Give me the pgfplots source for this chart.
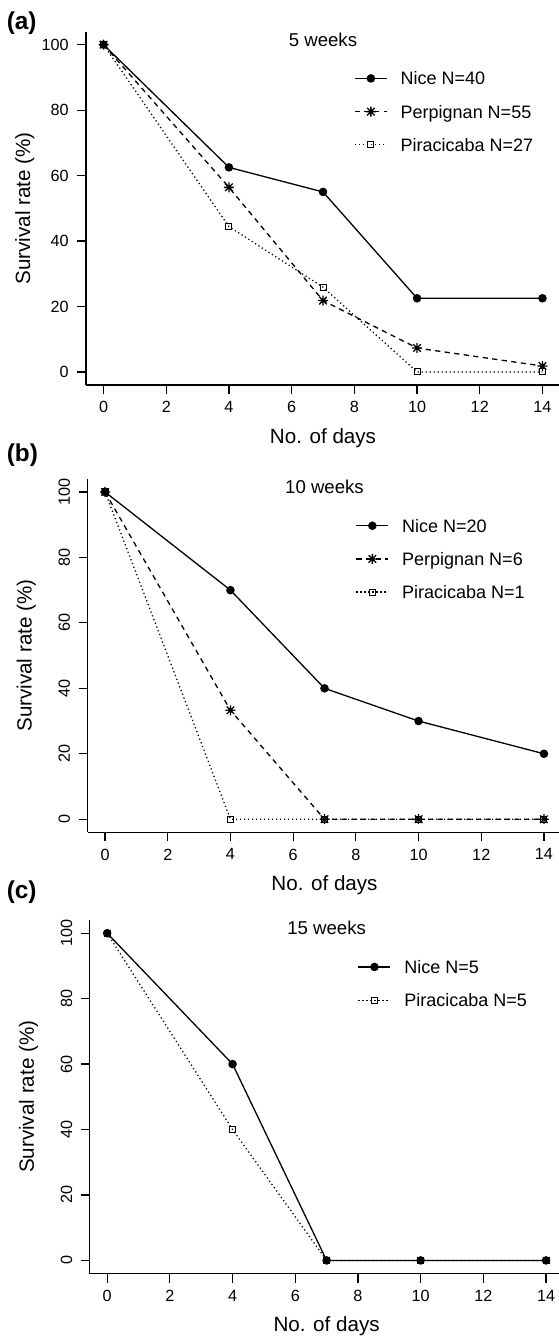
\documentclass[border=0pt]{standalone}
\usepackage{fontspec}
\setmainfont{Liberation Sans}
\usepackage{pgfplots}
\pgfplotsset{compat=1.18}

% R pch=8: a + and an x on top of each other
\pgfdeclareplotmark{rstar}{%
  \pgfpathmoveto{\pgfqpoint{-\pgfplotmarksize}{0pt}}\pgfpathlineto{\pgfqpoint{\pgfplotmarksize}{0pt}}%
  \pgfpathmoveto{\pgfqpoint{0pt}{-\pgfplotmarksize}}\pgfpathlineto{\pgfqpoint{0pt}{\pgfplotmarksize}}%
  \pgfpathmoveto{\pgfqpoint{-.75\pgfplotmarksize}{-.75\pgfplotmarksize}}\pgfpathlineto{\pgfqpoint{.75\pgfplotmarksize}{.75\pgfplotmarksize}}%
  \pgfpathmoveto{\pgfqpoint{-.75\pgfplotmarksize}{.75\pgfplotmarksize}}\pgfpathlineto{\pgfqpoint{.75\pgfplotmarksize}{-.75\pgfplotmarksize}}%
  \pgfusepathqstroke}

\tikzset{panel/.style={anchor=west, inner sep=0pt, font=\fontsize{12.2}{14}\selectfont\bfseries}}

\pgfplotsset{
  surv/.style={
    scale only axis, width=237pt, height=176.7pt,
    xmin=-0.56, xmax=14.56, ymin=-4, ymax=104,
    axis x line=bottom, axis y line=left,
    axis line style={-, line width=0.6pt},
    tick align=outside, major tick length=4.5pt,
    tick style={black, line width=0.6pt},
    xtick={0,2,...,14}, ytick={0,20,...,100},
    ticklabel style={font=\fontsize{8.1}{9.6}\selectfont, inner sep=0pt},
    xticklabel shift=3.5pt, yticklabel shift=4pt,
    /pgf/number format/assume math mode=true,
    xlabel={No. of days}, ylabel={Survival rate (\%)},
    label style={font=\fontsize{10.3}{12}\selectfont},
    xlabel style={at={(axis description cs:0.5,-0.165)}, anchor=base},
    ylabel style={at={(axis description cs:-0.129,0.5)}, anchor=center},
    every axis title shift=0pt,
    title style={at={(rel axis cs:0.5,0.958)}, anchor=base, font=\fontsize{9.3}{11}\selectfont},
    legend style={at={(rel axis cs:0.565,0.887)}, anchor=north west,
      draw=none, fill=none, inner sep=0pt, row sep=10.1pt,
      font=\fontsize{9}{10}\selectfont,
      nodes={inner sep=0pt, text height=6.5pt, text depth=0pt},
      /tikz/every odd column/.style={column sep=6.6pt}},
    legend cell align=left,
    legend image code/.code={\draw[mark repeat=2,mark phase=2,##1] plot coordinates {(0pt,0pt) (8pt,0pt) (16pt,0pt)};},
  },
  nice/.style={black, line width=0.65pt, mark=*, mark size=1.8pt, mark options={solid}},
  perp/.style={black, line width=0.65pt, dash pattern=on 2.6pt off 2.2pt, mark=rstar, mark size=2.5pt, mark options={solid}},
  pira/.style={black, line width=0.65pt, dash pattern=on 0.6pt off 1.4pt, mark=square, mark size=1.5pt, mark options={solid, line width=0.5pt}},
}

\begin{document}
\begin{tikzpicture}
\path[use as bounding box] (0pt,0pt) rectangle (279pt,-668pt);

% (a) 5 weeks
\node[panel] at (3.2pt,-11.5pt) {(a)};
\begin{axis}[surv, at={(43pt,-192.5pt)}, anchor=south west,
  yticklabel style={anchor=east},
  title={5 weeks}]
\addplot[nice] coordinates {(0,100) (4,62.5) (7,55) (10,22.5) (14,22.5)};
\addplot[perp] coordinates {(0,100) (4,56.4) (7,21.8) (10,7.3) (14,1.8)};
\addplot[pira] coordinates {(0,100) (4,44.4) (7,25.9) (10,0) (14,0)};
\legend{Nice N=40, Perpignan N=55, Piracicaba N=27}
\end{axis}

% (b) 10 weeks
\node[panel] at (3.2pt,-227.5pt) {(b)};
\begin{axis}[surv, at={(43.75pt,-416.15pt)}, anchor=south west,
  yticklabel style={rotate=90, anchor=south},
  title={10 weeks}]
\addplot[nice] coordinates {(0,100) (4,70) (7,40) (10,30) (14,20)};
\addplot[perp] coordinates {(0,100) (4,33.3) (7,0) (10,0) (14,0)};
\addplot[pira] coordinates {(0,100) (4,0) (7,0) (10,0) (14,0)};
\legend{Nice N=20, Perpignan N=6, Piracicaba N=1}
\end{axis}

% (c) 15 weeks
\node[panel] at (3.2pt,-446pt) {(c)};
\begin{axis}[surv, at={(44.8pt,-636.75pt)}, anchor=south west,
  yticklabel style={rotate=90, anchor=south},
  title={15 weeks}]
\addplot[nice] coordinates {(0,100) (4,60) (7,0) (10,0) (14,0)};
\addplot[pira] coordinates {(0,100) (4,40) (7,0) (10,0) (14,0)};
\legend{Nice N=5, Piracicaba N=5}
\end{axis}
\end{tikzpicture}
\end{document}
